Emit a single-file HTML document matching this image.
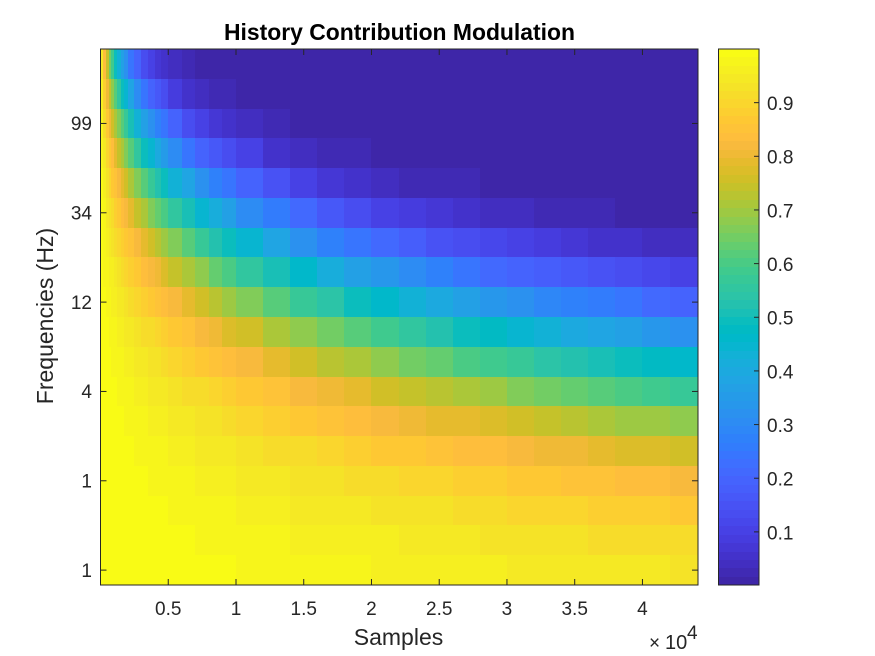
<!DOCTYPE html>
<html lang="en">
<head>
<meta charset="utf-8">
<title>History Contribution Modulation</title>
<style>
html,body{margin:0;padding:0;background:#fff;width:875px;height:656px;overflow:hidden}
svg{display:block;font-family:"Liberation Sans",Arial,sans-serif}
text{fill:#262626}
</style>
</head>
<body>
<svg id="chart" width="875" height="656" viewBox="0 0 875 656" xmlns="http://www.w3.org/2000/svg">
  <rect x="0" y="0" width="875" height="656" fill="#fff"/>
  <g id="cells" shape-rendering="crispEdges"></g>
  <g id="axes"></g>
  <g id="cbar"></g>
  <text x="399.5" y="40" text-anchor="middle" font-size="22.9" font-weight="bold" style="fill:#000">History Contribution Modulation</text>
  <text x="398.5" y="645" text-anchor="middle" font-size="23">Samples</text>
  <text transform="translate(53,316) rotate(-90)" text-anchor="middle" font-size="23">Frequencies (Hz)</text>
  <g>
    <text x="649" y="649" font-size="19">×</text>
    <text x="665" y="649" font-size="20">10</text>
    <text x="687" y="639" font-size="19">4</text>
  </g>
</svg>
<script>
// Cell start positions along the x axis (samples); the last cell ends at sampleEnd
const sampleStarts = [0,200,400,600,800,1000,1250,1500,1750,2000,2500,3000,3500,4000,4500,5000,6000,7000,8000,9000,10000,12000,14000,16000,18000,20000,22000,24000,26000,28000,30000,32000,34000,36000,38000,40000,42000];
const sampleEnd = 44100;
const xTickValues = [5000,10000,15000,20000,25000,30000,35000,40000];
const xTickLabels = ["0.5","1","1.5","2","2.5","3","3.5","4"];
const yTickRows = [2,5,8,11,14,17];
const yTickLabels = ["99","34","12","4","1","1"];
const cbarTickValues = [0.1,0.2,0.3,0.4,0.5,0.6,0.7,0.8,0.9];
const cbarTickLabels = ["0.1","0.2","0.3","0.4","0.5","0.6","0.7","0.8","0.9"];
const colorMin = 0.001;
const colorMax = 1.0;
// Modulation values, top row of the picture first
const modulationRows = [
[.94,.83,.74,.65,.58,.50,.43,.37,.32,.25,.19,.14,.10,.074,.055,.035,.019,.010,.006,.003,.001,.001,.001,.001,.001,.001,.001,.001,.001,.001,.001,.001,.001,.001,.001,.001,.001],
[.96,.88,.81,.74,.68,.62,.55,.50,.45,.38,.31,.25,.20,.16,.13,.093,.061,.039,.026,.017,.009,.004,.002,.001,.001,.001,.001,.001,.001,.001,.001,.001,.001,.001,.001,.001,.001],
[.97,.91,.86,.81,.76,.71,.66,.61,.57,.51,.43,.37,.32,.28,.24,.19,.14,.10,.076,.056,.036,.019,.011,.006,.003,.002,.001,.001,.001,.001,.001,.001,.001,.001,.001,.001,.001],
[.98,.94,.90,.86,.83,.79,.75,.71,.67,.62,.56,.50,.45,.40,.36,.31,.25,.20,.16,.13,.095,.062,.041,.026,.017,.011,.007,.005,.003,.002,.001,.001,.001,.001,.001,.001,.001],
[.985,.956,.928,.90,.874,.845,.813,.783,.754,.713,.661,.613,.569,.528,.49,.437,.376,.324,.279,.24,.191,.142,.105,.078,.057,.043,.031,.023,.017,.013,.009,.007,.005,.004,.003,.002,.002],
[.989,.969,.948,.929,.909,.888,.864,.842,.82,.788,.747,.709,.672,.638,.605,.558,.502,.452,.407,.366,.312,.252,.204,.165,.134,.108,.087,.071,.057,.046,.037,.03,.025,.02,.016,.013,.010],
[.993,.978,.963,.949,.935,.919,.902,.886,.869,.845,.815,.784,.756,.728,.702,.664,.616,.571,.53,.492,.44,.379,.327,.281,.242,.209,.18,.155,.133,.115,.099,.085,.073,.063,.054,.047,.04],
[.995,.984,.974,.964,.954,.943,.93,.918,.906,.888,.865,.843,.821,.80,.779,.749,.71,.674,.639,.607,.56,.504,.454,.409,.368,.331,.298,.268,.241,.217,.196,.176,.158,.143,.128,.116,.104],
[.996,.989,.982,.974,.967,.959,.95,.942,.933,.92,.903,.887,.87,.854,.839,.815,.786,.757,.73,.703,.665,.618,.574,.533,.495,.459,.427,.396,.368,.342,.317,.295,.274,.254,.236,.219,.203],
[.997,.992,.987,.982,.977,.971,.965,.959,.952,.943,.931,.919,.907,.895,.884,.867,.844,.823,.801,.781,.751,.713,.677,.642,.61,.579,.549,.522,.495,.47,.446,.423,.402,.382,.362,.344,.326],
[.998,.995,.991,.987,.984,.98,.975,.971,.966,.96,.951,.942,.933,.925,.916,.904,.888,.871,.856,.84,.817,.788,.759,.732,.705,.68,.656,.632,.609,.587,.566,.546,.526,.507,.489,.471,.454],
[.999,.996,.994,.991,.988,.986,.982,.979,.976,.971,.965,.959,.953,.947,.941,.931,.92,.908,.896,.885,.868,.846,.824,.803,.783,.763,.743,.724,.706,.688,.67,.653,.637,.62,.605,.589,.574],
[.999,.997,.995,.994,.992,.99,.988,.985,.983,.98,.975,.971,.966,.962,.958,.951,.943,.934,.926,.917,.905,.889,.872,.857,.841,.826,.811,.797,.782,.768,.754,.741,.728,.714,.701,.689,.676],
[.999,.998,.997,.996,.994,.993,.991,.99,.988,.986,.983,.979,.976,.973,.97,.965,.959,.953,.947,.941,.932,.92,.908,.897,.885,.874,.863,.852,.841,.83,.82,.809,.799,.789,.779,.769,.759],
[1,.999,.998,.997,.996,.995,.994,.993,.992,.99,.988,.985,.983,.981,.979,.976,.971,.967,.962,.958,.952,.943,.935,.926,.918,.91,.902,.893,.885,.878,.87,.862,.854,.846,.839,.832,.824],
[.999,.999,.998,.998,.997,.996,.996,.995,.994,.993,.991,.99,.988,.987,.985,.983,.98,.976,.973,.97,.966,.96,.953,.947,.941,.936,.93,.924,.918,.912,.906,.901,.895,.889,.884,.878,.872],
[1,.999,.999,.998,.998,.997,.997,.996,.996,.995,.994,.993,.992,.991,.989,.988,.986,.983,.981,.979,.976,.971,.967,.963,.958,.954,.95,.946,.941,.937,.933,.929,.925,.921,.917,.912,.908],
[1,1,.999,.999,.999,.998,.998,.997,.997,.996,.996,.995,.994,.993,.993,.991,.99,.988,.987,.985,.983,.98,.977,.974,.97,.968,.965,.961,.958,.955,.952,.949,.946,.943,.941,.938,.935]
];
// Colour ramp (64 levels)
const colormap = [
[.2422,.1504,.6603],[.2504,.165,.7076],[.2578,.1818,.7511],[.2647,.1978,.7952],[.2706,.2147,.8364],[.2751,.2342,.871],[.2783,.2559,.8991],[.2803,.2782,.9221],
[.2813,.3006,.9414],[.281,.3228,.9579],[.2795,.3447,.9717],[.276,.3667,.9829],[.2699,.3892,.9906],[.2602,.4123,.9952],[.244,.4358,.9988],[.2206,.4603,.9973],
[.1963,.4847,.9892],[.1834,.5074,.9798],[.1786,.5289,.9682],[.1764,.5499,.952],[.1687,.5703,.9359],[.154,.5902,.9218],[.146,.6091,.9079],[.138,.6276,.8973],
[.1248,.6459,.8883],[.1113,.6635,.8763],[.0952,.6798,.8598],[.0689,.6948,.8394],[.0297,.7082,.8163],[.0036,.7203,.7917],[.0067,.7312,.766],[.0433,.7411,.7394],
[.0964,.75,.712],[.1408,.7584,.6842],[.1717,.767,.6554],[.1938,.7758,.6251],[.2161,.7843,.5923],[.247,.7918,.5567],[.2906,.7973,.5188],[.3406,.8008,.4789],
[.3909,.8029,.4354],[.4456,.8024,.3909],[.5044,.7993,.348],[.5616,.7942,.3045],[.6174,.7876,.2612],[.672,.7793,.2227],[.7242,.7698,.191],[.7738,.7598,.1646],
[.8203,.7498,.1535],[.8634,.7406,.1596],[.9035,.733,.1774],[.9393,.7288,.21],[.9728,.7298,.2394],[.9956,.7434,.2371],[.997,.7659,.2199],[.9952,.7861,.1999],
[.9892,.8135,.1884],[.9786,.8386,.1778],[.9676,.8639,.165],[.961,.889,.1537],[.9597,.9135,.1423],[.9628,.9373,.1265],[.9691,.9606,.1064],[.9769,.9839,.0805]
];

const plotLeft = 100.5, plotRight = 698, plotTop = 49, plotBottom = 585;
const cbLeft = 718.5, cbRight = 759;
const SVG_NS = "http://www.w3.org/2000/svg";
const INK = "#262626";

function xScale(sample){ return plotLeft + (sample / sampleEnd) * (plotRight - plotLeft); }
function yScale(rowPos){ return plotTop + (rowPos / modulationRows.length) * (plotBottom - plotTop); }
function cbScale(value){ return plotBottom - ((value - colorMin) / (colorMax - colorMin)) * (plotBottom - plotTop); }
function levelOf(value){
  const t = (value - colorMin) / (colorMax - colorMin);
  return Math.max(0, Math.min(colormap.length - 1, Math.floor(t * colormap.length)));
}
function levelColor(level){
  const c = colormap[level];
  return "rgb(" + Math.round(c[0]*255) + "," + Math.round(c[1]*255) + "," + Math.round(c[2]*255) + ")";
}
function make(tag, parent, props){
  const node = document.createElementNS(SVG_NS, tag);
  for (const k in props) node.setAttribute(k, props[k]);
  parent.appendChild(node);
  return node;
}

const cellsGroup = document.getElementById("cells");
const axesGroup = document.getElementById("axes");
const cbarGroup = document.getElementById("cbar");

modulationRows.forEach(function(row, r){
  row.forEach(function(value, c){
    const x0 = Math.round(xScale(sampleStarts[c]));
    const x1 = Math.round(xScale(c + 1 < sampleStarts.length ? sampleStarts[c + 1] : sampleEnd));
    const y0 = Math.round(yScale(r));
    const y1 = Math.round(yScale(r + 1));
    const cell = make("rect", cellsGroup, {x:x0, y:y0, width:x1 - x0, height:y1 - y0, fill:levelColor(levelOf(value))});
    
    
  });
});

const plotFrame = make("rect", axesGroup, {x:plotLeft, y:plotTop, width:plotRight - plotLeft, height:plotBottom - plotTop, fill:"none", stroke:INK, "stroke-width":1});



xTickValues.forEach(function(value, i){
  const x = xScale(value);
  const bottomTick = make("line", axesGroup, {x1:x, x2:x, y1:plotBottom, y2:plotBottom - 6, stroke:INK, "stroke-width":1});
  
  
  const topTick = make("line", axesGroup, {x1:x, x2:x, y1:plotTop, y2:plotTop + 6, stroke:INK, "stroke-width":1});
  
  
  const label = make("text", axesGroup, {x:x, y:615, "text-anchor":"middle", "font-size":19});
  label.textContent = xTickLabels[i];
  
  
});

yTickRows.forEach(function(rowIndex, i){
  const y = yScale(rowIndex + 0.5);
  const leftTick = make("line", axesGroup, {x1:plotLeft, x2:plotLeft + 6, y1:y, y2:y, stroke:INK, "stroke-width":1});
  
  
  const rightTick = make("line", axesGroup, {x1:plotRight, x2:plotRight - 6, y1:y, y2:y, stroke:INK, "stroke-width":1});
  
  
  const label = make("text", axesGroup, {x:92, y:y + 6.8, "text-anchor":"end", "font-size":19});
  label.textContent = yTickLabels[i];
  
  
});

colormap.forEach(function(rgb, level){
  const y0 = Math.round(plotBottom - (level + 1) / colormap.length * (plotBottom - plotTop));
  const y1 = Math.round(plotBottom - level / colormap.length * (plotBottom - plotTop));
  const band = make("rect", cbarGroup, {x:cbLeft, y:y0, width:cbRight - cbLeft, height:y1 - y0, fill:levelColor(level), "shape-rendering":"crispEdges"});
  
  
});
const cbFrame = make("rect", cbarGroup, {x:cbLeft, y:plotTop, width:cbRight - cbLeft, height:plotBottom - plotTop, fill:"none", stroke:INK, "stroke-width":1});



cbarTickValues.forEach(function(value, i){
  const y = cbScale(value);
  const tick = make("line", cbarGroup, {x1:cbRight, x2:cbRight - 5, y1:y, y2:y, stroke:INK, "stroke-width":1});
  
  
  const label = make("text", cbarGroup, {x:767, y:y + 7.4, "font-size":19});
  label.textContent = cbarTickLabels[i];
  
  
});
</script>
</body>
</html>
